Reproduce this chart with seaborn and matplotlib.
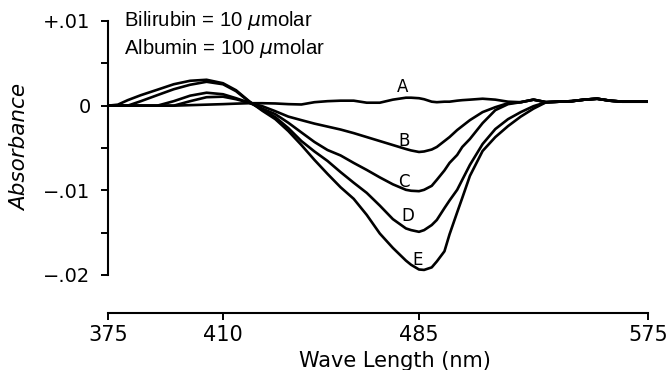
import numpy as np
import pandas as pd
import matplotlib
matplotlib.use("Agg")
import matplotlib.pyplot as plt
import seaborn as sns
from matplotlib.ticker import FixedLocator

# ---------------- data (absorbance in units of 0.001) ----------------
wavelength = [375, 378, 381, 385, 390, 395, 400, 405, 410,
              415, 420, 425, 430, 435, 440, 445, 450, 455, 460, 465, 470, 475, 480, 482, 485,
              487, 490, 492, 495, 497, 500, 502, 505, 510, 515, 520, 525, 530, 535, 540, 545, 550,
              555, 560, 565, 570, 575]

curve_a = [0, 0, 0, 0, 0, 0, 0.06, 0.12, 0.18,
           0.24, 0.29, 0.29, 0.26, 0.18, 0.14, 0.41, 0.53, 0.59, 0.59, 0.35, 0.35, 0.71, 0.94, 0.94, 0.88,
           0.76, 0.47, 0.41, 0.47, 0.47, 0.59, 0.65, 0.71, 0.82, 0.71, 0.47, 0.41, 0.71, 0.41, 0.47, 0.53, 0.71,
           0.82, 0.59, 0.47, 0.47, 0.47]

curve_b = [0, 0, 0, 0, 0, 0, 0.53, 1.0, 1.06,
           0.76, 0.35, -0.06, -0.65, -1.29, -1.71, -2.12, -2.47, -2.82, -3.24, -3.71, -4.18, -4.65, -5.12, -5.29, -5.47,
           -5.41, -5.18, -4.88, -4.18, -3.71, -2.88, -2.41, -1.71, -0.76, -0.18, 0.29, 0.41, 0.71, 0.41, 0.47, 0.53, 0.71,
           0.82, 0.59, 0.47, 0.47, 0.47]

curve_c = [0, 0, 0, 0, 0, 0.53, 1.18, 1.53, 1.35,
           0.88, 0.35, -0.35, -1.0, -2.02, -3.16, -4.29, -5.24, -5.88, -6.76, -7.59, -8.47, -9.29, -9.94, -10.05, -10.1,
           -9.94, -9.47, -8.76, -7.65, -6.76, -5.82, -4.88, -3.94, -2.06, -0.53, 0.18, 0.41, 0.71, 0.41, 0.47, 0.53, 0.71,
           0.82, 0.59, 0.47, 0.47, 0.47]

curve_d = [0, 0, 0, 0.53, 1.24, 1.94, 2.47, 2.82, 2.53,
           1.71, 0.47, -0.47, -1.35, -2.65, -4.18, -5.41, -6.53, -7.85, -9.1, -10.3, -11.8, -13.4, -14.5, -14.7, -14.9,
           -14.7, -14.1, -13.5, -12.1, -11.2, -9.94, -8.76, -7.0, -4.53, -2.76, -1.59, -0.76, -0.06, 0.41, 0.47, 0.53, 0.71,
           0.82, 0.59, 0.47, 0.47, 0.47]

curve_e = [0, 0.12, 0.65, 1.24, 1.88, 2.53, 2.94, 3.06, 2.65,
           1.82, 0.53, -0.59, -1.59, -3.0, -4.65, -6.41, -8.06, -9.64, -11.0, -12.9, -15.1, -16.8, -18.3, -18.8, -19.35,
           -19.4, -19.1, -18.4, -17.2, -15.2, -12.6, -10.9, -8.3, -5.35, -3.71, -2.41, -1.29, -0.35, 0.41, 0.47, 0.53, 0.71,
           0.82, 0.59, 0.47, 0.47, 0.47]

curve_names = ["A", "B", "C", "D", "E"]
label_x = [478.9, 479.3, 479.3, 480.8, 484.6]
label_y = [2.21, -4.18, -8.96, -13.0, -18.18]

x_ticks = [375, 410, 485, 575]
x_tick_labels = ["375", "410", "485", "575"]
y_ticks = [-0.02, -0.01, 0.0, 0.01]
y_tick_labels = ["\u2212.02", "\u2212.01", "0", "+.01"]
y_minor = [-0.015, -0.005, 0.005]

# relative spacing of the labelled wavelengths along the printed axis
axis_spacing = [0, 115, 311, 540]

# ---------------- build long table ----------------
series = {"A": curve_a, "B": curve_b, "C": curve_c, "D": curve_d, "E": curve_e}
rows = []
for name, vals in series.items():
    for w, v in zip(wavelength, vals):
        rows.append({"wavelength": w, "absorbance": v * 0.001, "curve": name})
df = pd.DataFrame(rows)

# ---------------- plot ----------------
sns.set_theme(style="ticks")
plt.rcParams["font.family"] = ["DejaVu Sans"]
plt.rcParams["mathtext.fontset"] = "dejavusans"
for k in ["text.color", "axes.labelcolor", "xtick.color", "ytick.color", "axes.edgecolor"]:
    plt.rcParams[k] = "black"

fig = plt.figure(figsize=(6.69, 3.70), dpi=100)
ax = fig.add_axes([108 / 669, 1 - 275 / 370, 540 / 669, 254 / 370])


def fwd(x):
    return np.interp(x, x_ticks, axis_spacing)


def inv(x):
    return np.interp(x, axis_spacing, x_ticks)


ax.set_xscale("function", functions=(fwd, inv))

sns.lineplot(data=df, x="wavelength", y="absorbance", hue="curve",
             palette=["black"] * 5, legend=False, linewidth=1.9, ax=ax,
             estimator=None, solid_joinstyle="round", solid_capstyle="round")

ax.set_xlim(375, 575)
ax.set_ylim(-0.02, 0.01)
ax.margins(0)

ax.xaxis.set_major_locator(FixedLocator(x_ticks))
ax.set_xticklabels(x_tick_labels)
ax.xaxis.set_minor_locator(FixedLocator([]))
ax.yaxis.set_major_locator(FixedLocator(y_ticks))
ax.set_yticklabels(y_tick_labels)
ax.yaxis.set_minor_locator(FixedLocator(y_minor))

for s in ["top", "right"]:
    ax.spines[s].set_visible(False)
ax.spines["bottom"].set_position(("outward", 27.5))
for s in ["left", "bottom"]:
    ax.spines[s].set_linewidth(1.5)
    ax.spines[s].set_color("black")

ax.tick_params(axis="both", which="both", direction="out", length=5, width=1.4,
               color="black")
ax.tick_params(axis="x", labelsize=15, pad=3.5)
ax.tick_params(axis="y", labelsize=14, pad=7.5)

ax.set_xlabel("Wave Length (nm)", fontsize=15, va="center")
ax.xaxis.set_label_coords((395 - 108) / 540, (275 - 361) / 254)
ax.set_ylabel("Absorbance", fontsize=15.5, style="italic", ha="center", va="center")
ax.yaxis.set_label_coords((20 - 108) / 540, (275 - 147.5) / 254)

for n, lx, ly in zip(curve_names, label_x, label_y):
    ax.text(lx, ly * 0.001, n, fontsize=12, ha="center", va="center")

fig.text(124 / 669, 1 - 21 / 370, "Bilirubin = 10 $\\mu$molar",
         fontsize=14.6, family=["Liberation Sans", "DejaVu Sans"], ha="left", va="center")
fig.text(124 / 669, 1 - 48 / 370, "Albumin = 100 $\\mu$molar",
         fontsize=14.6, family=["Liberation Sans", "DejaVu Sans"], ha="left", va="center")

fig.savefig("out.png", dpi=100)
